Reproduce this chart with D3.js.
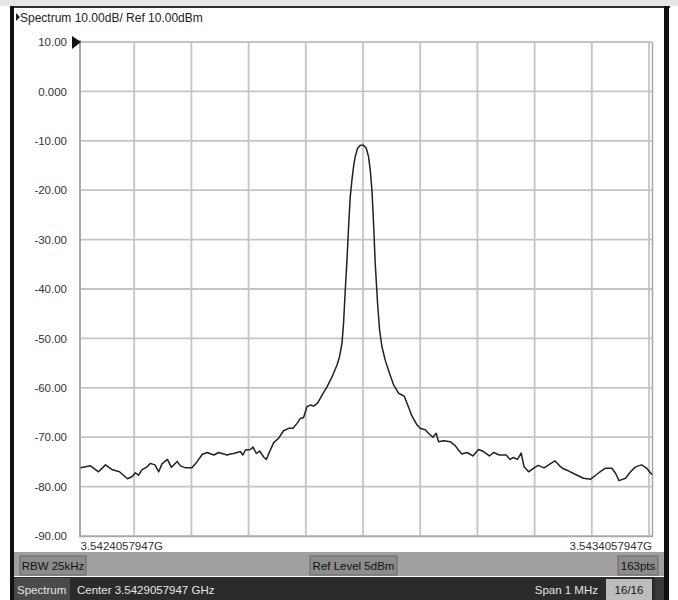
<!DOCTYPE html>
<html>
<head>
<meta charset="utf-8">
<script src="https://cdn.jsdelivr.net/npm/d3@7"></script>
<style>
  html, body { margin: 0; padding: 0; background: #fff; }
  svg { display: block; }
  text { font-family: "Liberation Sans", Arial, sans-serif; }
</style>
</head>
<body>
<svg id="chart" width="678" height="600"></svg>
<script>
// Trace readings: frequency offset from start (kHz) and level (dBm)
const traceKHz = [
  0, 17.5, 31.5, 43.7, 55.9, 68.2, 82.2, 90.0, 96.2, 101.4, 107.5, 116.3, 122.4, 130.2, 136.9,
  142.5, 152.1, 159.1, 169.1, 174.8, 183.6, 194.9, 203.7, 212.8, 221.5, 233.4, 241.8, 256.5,
  262.2, 268.0, 274.0, 279.7, 284.1, 288.5, 297.2, 301.9, 307.7, 313.5, 320.5, 325.2, 331.0,
  338.0, 346.7, 355.4, 364.2, 371.9, 378.9, 384.6, 390.4, 396.3, 402.1, 407.9, 414.9, 422.6,
  431.3, 440.1, 448.8, 453.3, 457.5, 460.3, 463.3, 466.3, 469.1, 472.0, 475.0, 477.8, 480.7,
  484.8, 489.5, 495.2, 500.0, 504.0, 507.0, 510.0, 512.8, 515.7, 519.8, 523.3, 527.5, 533.2,
  540.8, 547.8, 556.5, 566.5, 571.2, 575.2, 579.9, 588.7, 594.4, 603.2, 608.9, 616.6, 622.4,
  626.4, 635.2, 646.9, 655.6, 661.4, 667.3, 676.1, 681.0, 686.6, 696.4, 705.1, 715.6, 722.6,
  733.1, 744.8, 751.8, 757.5, 764.5, 771.0, 776.2, 784.1, 793.7, 800.7, 811.2, 821.7, 830.4,
  838.3, 844.9, 853.7, 865.4, 879.9, 892.5, 900.4, 909.1, 917.8, 929.6, 936.2, 942.3, 953.7,
  962.4, 971.2, 982.0, 990.8, 1000
];
const traceDBm = [
  -76.2, -75.8, -77.0, -75.6, -76.6, -77.0, -78.4, -78.0, -77.2, -77.7, -76.6, -76.0, -75.3, -75.6, -77.0,
  -75.4, -74.5, -76.1, -74.9, -75.8, -76.2, -76.2, -75.0, -73.5, -73.1, -73.6, -73.1, -73.6,
  -73.4, -73.3, -73.1, -72.9, -73.6, -72.6, -72.5, -72.0, -73.3, -72.8, -74.0, -74.5, -72.9,
  -71.1, -70.2, -68.7, -68.2, -68.2, -67.2, -66.2, -66.0, -63.8, -63.5, -63.7, -63.1, -61.5,
  -59.8, -57.8, -55.4, -53.7, -51.0, -46.9, -40.2, -34.1, -27.4, -21.3, -17.9, -15.2, -13.2,
  -11.5, -10.9, -10.9, -11.5, -13.2, -15.9, -20.0, -26.7, -34.8, -42.9, -48.3, -51.7, -54.4,
  -57.1, -59.4, -61.1, -61.7, -63.1, -64.3, -65.7, -67.5, -68.2, -68.5, -69.2, -70.0, -69.2,
  -70.9, -70.7, -70.9, -71.7, -72.6, -73.4, -73.1, -73.4, -73.8, -72.5, -72.9, -73.8, -73.1,
  -73.6, -73.6, -74.5, -74.1, -74.5, -73.2, -76.0, -77.0, -76.2, -75.7, -76.2, -75.4, -74.8,
  -75.8, -76.4, -76.8, -77.5, -78.3, -78.5, -77.8, -77.0, -76.3, -76.3, -77.3, -78.8, -78.3,
  -77.0, -76.0, -75.6, -76.3, -77.6
];

// Axis settings
const levelTicks = [10, 0, -10, -20, -30, -40, -50, -60, -70, -80, -90];
const levelLabels = ["10.00", "0.000", "-10.00", "-20.00", "-30.00", "-40.00", "-50.00",
                     "-60.00", "-70.00", "-80.00", "-90.00"];
const freqDivisions = d3.range(0, 11);
const startLabel = "3.5424057947G";
const stopLabel = "3.5434057947G";

// Status texts
const headerText = "Spectrum 10.00dB/ Ref 10.00dBm";
const infoBoxes = ["RBW 25kHz", "Ref Level 5dBm", "163pts"];
const footerLeft = ["Spectrum", "Center 3.5429057947 GHz"];
const footerRight = ["Span 1 MHz", "16/16"];

const svg = d3.select("#chart");

const x = d3.scaleLinear().domain([0, 1000]).range([80.5, 652]);
const y = d3.scaleLinear().domain([-90, 10]).range([536, 42]);
const gridX = d3.scaleLinear().domain([0, 10]).range([77, 649]);

// Window frame
svg.append("rect").attr("x", 0).attr("y", 0).attr("width", 678).attr("height", 6).attr("fill", "#e6e6e6");
svg.append("rect").attr("x", 10).attr("y", 6).attr("width", 660).attr("height", 2).attr("fill", "#333");
svg.append("rect").attr("x", 10).attr("y", 6).attr("width", 4).attr("height", 594).attr("fill", "#111");
svg.append("rect").attr("x", 664).attr("y", 6).attr("width", 5).attr("height", 594).attr("fill", "#111");

// Header
const hdr = svg.append("g");
hdr.append("path").attr("d", "M16,13 L20,17 L16,21 Z").attr("fill", "#222");
hdr.append("text").attr("x", 20).attr("y", 21.5).attr("font-size", 12).attr("fill", "#222").text(headerText);

// Grid
const grid = svg.append("g");
grid.selectAll("line.h").data(levelTicks).join("line")
  .attr("x1", 80).attr("x2", 652)
  .attr("y1", d => y(d)).attr("y2", d => y(d))
  .attr("stroke", "#c4c4c4").attr("stroke-width", 1.8);
grid.selectAll("line.v").data(freqDivisions.filter(d => d > 0)).join("line")
  .attr("x1", d => gridX(d)).attr("x2", d => gridX(d))
  .attr("y1", 42).attr("y2", 536)
  .attr("stroke", "#c4c4c4").attr("stroke-width", 1.8);
// plot edges
grid.append("line").attr("x1", 80).attr("x2", 80).attr("y1", 40).attr("y2", 537)
  .attr("stroke", "#a8a8a8").attr("stroke-width", 2);
grid.append("line").attr("x1", 652.5).attr("x2", 652.5).attr("y1", 42).attr("y2", 537)
  .attr("stroke", "#a8a8a8").attr("stroke-width", 1.5);
grid.append("line").attr("x1", 80).attr("x2", 653).attr("y1", 536.5).attr("y2", 536.5)
  .attr("stroke", "#a8a8a8").attr("stroke-width", 1.5);

// Level axis labels
const yAxis = d3.axisLeft(y).tickValues(levelTicks)
  .tickFormat((d, i) => levelLabels[i]).tickSize(0).tickPadding(0);
const yg = svg.append("g").attr("transform", "translate(67,0)").call(yAxis);
yg.select(".domain").remove();
yg.selectAll("text").attr("font-size", 11.5).attr("fill", "#333")
  .attr("font-family", "Liberation Sans, Arial, sans-serif");

// Reference level marker
svg.append("path").attr("d", `M72,${y(10) - 6} L81,${y(10)} L72,${y(10) + 7} Z`).attr("fill", "#111");

// Frequency labels
svg.append("text").attr("x", x(0)).attr("y", 549.5).attr("font-size", 11.5).attr("fill", "#333")
  .text(startLabel);
svg.append("text").attr("x", x(1000)).attr("y", 549.5).attr("font-size", 11.5).attr("fill", "#333")
  .attr("text-anchor", "end").text(stopLabel);

// Trace
const traceData = traceKHz.map((f, i) => [f, traceDBm[i]]);
const line = d3.line().x(d => x(d[0])).y(d => y(d[1]));
svg.append("path").datum(traceData).attr("d", line)
  .attr("fill", "none").attr("stroke", "#222").attr("stroke-width", 1.5)
  .attr("stroke-linejoin", "round");

// Info bar
const info = svg.append("g");
info.append("rect").attr("x", 14).attr("y", 552).attr("width", 650).attr("height", 24).attr("fill", "#a0a0a0");
const boxes = [
  { x: 20, w: 66 },
  { x: 310, w: 87 },
  { x: 618, w: 40 }
];
infoBoxes.forEach((t, i) => {
  const b = boxes[i];
  info.append("rect").attr("x", b.x).attr("y", 556).attr("width", b.w).attr("height", 19)
    .attr("fill", "#8c8c8c").attr("stroke", "#666").attr("stroke-width", 1);
  info.append("text").attr("x", b.x + b.w / 2).attr("y", 569.5).attr("text-anchor", "middle")
    .attr("font-size", 11.5).attr("fill", "#111").text(t);
});

// Status bar
const status = svg.append("g");
status.append("rect").attr("x", 14).attr("y", 577).attr("width", 650).attr("height", 23).attr("fill", "#2b2b2b");
status.append("rect").attr("x", 14).attr("y", 578).attr("width", 56).attr("height", 22).attr("fill", "#4a4a4a");
status.append("text").attr("x", 17).attr("y", 594).attr("font-size", 11.5).attr("fill", "#e6e6e6").text(footerLeft[0]);
status.append("text").attr("x", 77).attr("y", 594).attr("font-size", 11.5).attr("fill", "#e6e6e6").text(footerLeft[1]);
status.append("text").attr("x", 598).attr("y", 594).attr("font-size", 11.5).attr("fill", "#e6e6e6")
  .attr("text-anchor", "end").text(footerRight[0]);
status.append("rect").attr("x", 606).attr("y", 579).attr("width", 46).attr("height", 21).attr("fill", "#bdbdbd");
status.append("text").attr("x", 629).attr("y", 594).attr("font-size", 11.5).attr("fill", "#111")
  .attr("text-anchor", "middle").text(footerRight[1]);
status.append("rect").attr("x", 655).attr("y", 577).attr("width", 9).attr("height", 23).attr("fill", "#3a3a3a");
</script>
</body>
</html>
